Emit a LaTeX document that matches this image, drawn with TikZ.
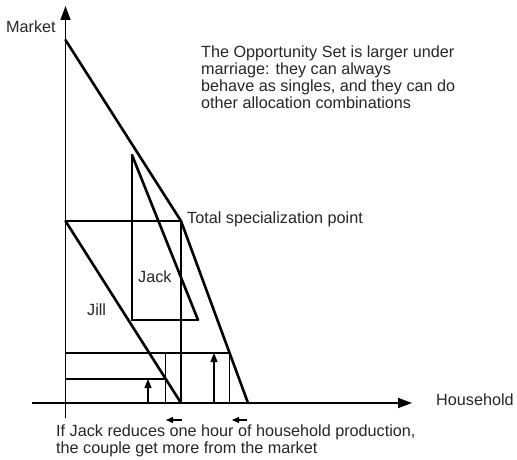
\documentclass[tikz,border=0pt]{standalone}
\usepackage{fontspec}
\setmainfont{Liberation Sans}
\usetikzlibrary{arrows.meta}
\begin{document}
\begin{tikzpicture}[x=1pt,y=-1pt,
  thick line/.style={line width=2.6pt,line cap=round,line join=round},
  thin line/.style={line width=1.1pt},
  axis line/.style={line width=1.6pt,-{Triangle[length=14pt,width=10pt]}},
  up arrow/.style={line width=1.1pt,-{Triangle[length=9pt,width=7pt]}},
  small arrow/.style={line width=1.1pt,-{Triangle[length=7pt,width=6pt]}},
  label text/.style={anchor=base west,inner sep=0pt,font=\fontsize{16.2}{17}\selectfont,align=left,text=black!85}]
\useasboundingbox (0,0) rectangle (517,460);
% points
\coordinate (O) at (65.5,403);
\coordinate (ybot) at (65.5,418);
\coordinate (ytop) at (65.5,6);
\coordinate (xleft) at (32,403);
\coordinate (xright) at (412,403);
\coordinate (A) at (65.5,40);
\coordinate (T) at (181,221);
\coordinate (B) at (248,403);
\coordinate (JillTop) at (65.5,221);
\coordinate (JillBot) at (181,403);
\coordinate (JackTop) at (132,155);
\coordinate (JackBR) at (198,320);
\coordinate (JackBL) at (132,320);
\coordinate (TB) at (181,403);
\coordinate (L1) at (65.5,353);
\coordinate (R1) at (229.6,353);
\coordinate (R1b) at (229.6,403);
\coordinate (M1) at (165.5,353);
\coordinate (M1b) at (165.5,403);
\coordinate (L2) at (65.5,379);
\coordinate (M2) at (165.5,379);
\coordinate (a1s) at (148,403);
\coordinate (a1e) at (148,379);
\coordinate (a2s) at (214,403);
\coordinate (a2e) at (214,353);
\coordinate (h1s) at (182,420);
\coordinate (h1e) at (166,420);
\coordinate (h2s) at (247,420);
\coordinate (h2e) at (232,420);
% thin lines
\draw[thin line] (JillTop) -- (T) -- (TB);
\draw[thin line] (JackTop) -- (JackBL) -- (JackBR);
\draw[thin line] (L1) -- (R1) -- (R1b);
\draw[thin line] (M1) -- (M1b);
\draw[thin line] (L2) -- (M2);
% axes
\draw[axis line] (ybot) -- (ytop);
\draw[axis line] (xleft) -- (xright);
% thick lines
\draw[thick line] (A) -- (T) -- (B);
\draw[thick line] (JillTop) -- (JillBot);
\draw[thick line] (JackTop) -- (JackBR);
% arrows
\draw[up arrow] (a1s) -- (a1e);
\draw[up arrow] (a2s) -- (a2e);
\draw[small arrow] (h1s) -- (h1e);
\draw[small arrow] (h2s) -- (h2e);
% labels
\node[label text] (market) at (6,33) {Market};
\node[label text] (household) at (436,405) {Household};
\node[label text] (opp) at (201,108) {The Opportunity Set is larger under\\marriage: they can always\\behave as singles, and they can do\\other allocation combinations};
\node[label text] (tsp) at (187,223) {Total specialization point};
\node[label text] (jack) at (138,282) {Jack};
\node[label text] (jill) at (87,315) {Jill};
\node[label text] (note) at (56,453) {If Jack reduces one hour of household production,\\the couple get more from the market};
\end{tikzpicture}
\end{document}
